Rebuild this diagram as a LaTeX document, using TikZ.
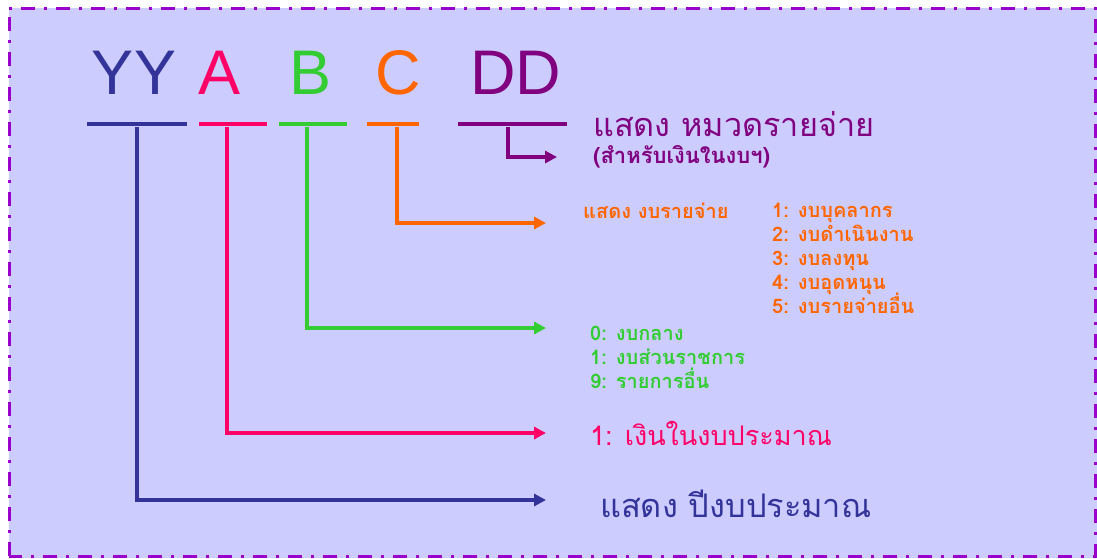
\documentclass[tikz,border=0pt]{standalone}
\usepackage{fontspec}
\setmainfont{Liberation Sans}
\newfontfamily\thai[Script=Thai]{Loma}
\usetikzlibrary{arrows.meta}
\definecolor{bg}{HTML}{CCCCFF}
\definecolor{frame}{HTML}{9900CC}
\definecolor{cyy}{HTML}{333399}
\definecolor{ca}{HTML}{FF0066}
\definecolor{cb}{HTML}{33CC33}
\definecolor{cc}{HTML}{FF6600}
\definecolor{cd}{HTML}{800080}
\tikzset{
  code/.style={font=\fontsize{63}{63}\selectfont, inner sep=0pt, anchor=base},
  bar/.style={line width=4pt},
  conn/.style={line width=3.5pt, -{Triangle[length=12pt,width=12pt]}},
  lbl/.style={anchor=west, inner sep=0pt, font=\thai},
  small/.style={lbl, anchor=base west, font=\thai\bfseries\fontsize{20}{24}\selectfont},
}
\begin{document}
\begin{tikzpicture}[x=1pt,y=-1pt]
\useasboundingbox (0,0) rectangle (1097,558);
\fill[bg] (9,8) rectangle (1097,558);
\draw[frame, line width=3pt, dash pattern=on 14pt off 9pt on 3pt off 9pt] (9,556) -- (9,8) -- (1095,8) -- (1095,556) -- cycle;

% code letters
\node[code, text=cyy] (YY) at (134,94) {YY};
\node[code, text=ca] (A) at (220,94) {A};
\node[code, text=cb] (B) at (311,94) {B};
\node[code, text=cc] (C) at (398,94) {C};
\node[code, text=cd] (DD) at (516,94) {DD};

% underlines
\draw[bar, cyy] (87,124) -- (187,124);
\draw[bar, ca] (199,124) -- (267,124);
\draw[bar, cb] (279,124) -- (347,124);
\draw[bar, cc] (367,124) -- (419,124);
\draw[bar, cd] (458,124) -- (567,124);

\coordinate (uyy) at (137,127);
\coordinate (ua) at (227,127);
\coordinate (ub) at (307,127);
\coordinate (uc) at (397,127);
\coordinate (ud) at (508,127);

% labels
\node[lbl, text=cd, font=\thai\fontsize{32.4}{32}\selectfont] (tdd) at (593,124) {แสดง หมวดรายจ่าย};
\node[lbl, text=cd, font=\thai\bfseries\fontsize{22}{22}\selectfont] (tdd2) at (593,157) {(สำหรับเงินในงบฯ)};
\node[small, text=cc] (tc) at (583,218) {แสดง งบรายจ่าย};
\node[small, text=cc] (c1) at (772,217) {1: งบบุคลากร};
\node[small, text=cc] (c2) at (772,241) {2: งบดำเนินงาน};
\node[small, text=cc] (c3) at (772,265) {3: งบลงทุน};
\node[small, text=cc] (c4) at (772,289) {4: งบอุดหนุน};
\node[small, text=cc] (c5) at (772,313) {5: งบรายจ่ายอื่น};
\node[small, text=cb] (b0) at (590,340) {0: งบกลาง};
\node[small, text=cb] (b1) at (590,364) {1: งบส่วนราชการ};
\node[small, text=cb] (b9) at (590,388) {9: รายการอื่น};
\node[lbl, text=ca, font=\thai\fontsize{27}{27}\selectfont] (ta) at (590,433) {1: เงินในงบประมาณ};
\node[lbl, text=cyy, font=\thai\fontsize{32.5}{32}\selectfont] (tyy) at (600,504) {แสดง ปีงบประมาณ};

% arrow ends
\coordinate (edd) at (557,157);
\coordinate (ec) at (546,223);
\coordinate (eb) at (546,328);
\coordinate (ea) at (546,433);
\coordinate (eyy) at (546,500);

\draw[conn, cd] (ud) |- (edd);
\draw[conn, cc] (uc) |- (ec);
\draw[conn, cb] (ub) |- (eb);
\draw[conn, ca] (ua) |- (ea);
\draw[conn, cyy] (uyy) |- (eyy);
\end{tikzpicture}
\end{document}
